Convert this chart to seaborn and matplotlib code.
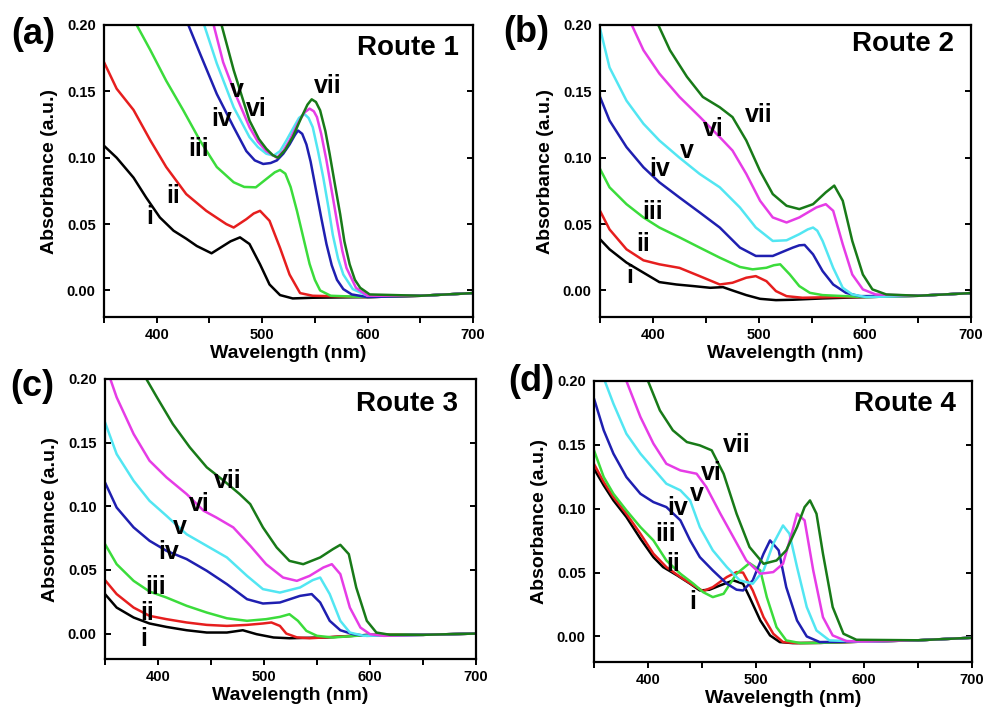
import matplotlib
matplotlib.use("Agg")
import matplotlib.pyplot as plt
import seaborn as sns
import numpy as np

# ---------------- data: Route 1 (a) ----------------
a_i_wl = [350, 362, 378, 390, 403, 416, 428, 438, 452, 463, 470, 479, 488, 498, 507, 517, 529, 548, 600, 650, 700]
a_i_ab = [0.109, 0.100, 0.085, 0.070, 0.055, 0.045, 0.039, 0.0335, 0.028, 0.0335, 0.037, 0.040, 0.035, 0.0197, 0.0045, -0.0035, -0.006, -0.0055, -0.005, -0.004, -0.002]
a_ii_wl = [350, 362, 378, 394, 409, 428, 447, 466, 473, 485, 492, 498, 507, 517, 526, 536, 548, 600, 650, 700]
a_ii_ab = [0.172, 0.152, 0.136, 0.113, 0.093, 0.0726, 0.060, 0.050, 0.0474, 0.0537, 0.058, 0.060, 0.0525, 0.032, 0.012, -0.002, -0.004, -0.005, -0.004, -0.002]
a_iii_wl = [381, 394, 409, 425, 441, 457, 473, 483, 494, 504, 512, 517, 522, 527, 533, 539, 545, 550, 555, 565, 600, 650, 700]
a_iii_ab = [0.200, 0.181, 0.158, 0.136, 0.113, 0.093, 0.0815, 0.078, 0.0777, 0.084, 0.089, 0.0908, 0.088, 0.078, 0.060, 0.040, 0.020, 0.008, 0.000, -0.004, -0.005, -0.004, -0.002]
a_iv_wl = [430, 441, 457, 473, 485, 493, 501, 508, 514, 520, 526, 531, 534, 538, 542, 546, 551, 556, 561, 566, 571, 577, 585, 600, 650, 700]
a_iv_ab = [0.200, 0.1786, 0.148, 0.123, 0.105, 0.098, 0.0953, 0.096, 0.098, 0.103, 0.110, 0.117, 0.1205, 0.118, 0.110, 0.097, 0.076, 0.055, 0.035, 0.019, 0.008, 0.001, -0.003, -0.005, -0.004, -0.002]
a_v_wl = [445, 457, 473, 488, 496, 504, 511, 517, 523, 530, 535, 540, 544, 548, 553, 558, 563, 567, 572, 577, 586, 600, 650, 700]
a_v_ab = [0.200, 0.171, 0.138, 0.1155, 0.108, 0.103, 0.1016, 0.105, 0.113, 0.123, 0.130, 0.133, 0.130, 0.123, 0.105, 0.085, 0.062, 0.042, 0.024, 0.012, 0.001, -0.004, -0.004, -0.002]
a_vi_wl = [454, 463, 473, 488, 496, 504, 514, 520, 526, 534, 540, 545, 549, 552, 556, 561, 566, 571, 576, 580, 589, 600, 650, 700]
a_vi_ab = [0.200, 0.172, 0.151, 0.123, 0.112, 0.105, 0.100, 0.105, 0.113, 0.126, 0.134, 0.137, 0.135, 0.1306, 0.118, 0.098, 0.075, 0.052, 0.030, 0.017, 0.002, -0.004, -0.004, -0.002]
a_vii_wl = [461.5, 473, 488, 497, 504, 510, 515, 522, 529, 537, 543, 547, 551, 555, 560, 564, 569, 574, 578, 583, 588, 593, 602, 650, 700]
a_vii_ab = [0.200, 0.166, 0.128, 0.114, 0.1067, 0.102, 0.100, 0.106, 0.1155, 0.130, 0.140, 0.144, 0.142, 0.1357, 0.120, 0.103, 0.080, 0.0575, 0.037, 0.0197, 0.008, 0.002, -0.003, -0.004, -0.002]

# ---------------- data: Route 2 (b) ----------------
b_i_wl = [350, 359, 375, 391, 406, 422, 438, 454, 466, 475, 488, 501, 516, 532, 560, 600, 650, 700]
b_i_ab = [0.0386, 0.031, 0.021, 0.0134, 0.0063, 0.0045, 0.0033, 0.002, 0.0025, 0.0, -0.0035, -0.0063, -0.0073, -0.007, -0.006, -0.005, -0.004, -0.002]
b_ii_wl = [350, 359, 375, 391, 406, 425, 444, 463, 475, 488, 497, 507, 516, 526, 541, 570, 600, 650, 700]
b_ii_ab = [0.060, 0.046, 0.031, 0.0227, 0.0197, 0.017, 0.0108, 0.0045, 0.0058, 0.0096, 0.0108, 0.007, -0.0005, -0.0043, -0.0055, -0.005, -0.005, -0.004, -0.002]
b_iii_wl = [350, 359, 375, 391, 406, 425, 444, 463, 482, 494, 507, 514, 520, 529, 538, 548, 560, 600, 650, 700]
b_iii_ab = [0.0916, 0.0777, 0.065, 0.055, 0.0474, 0.040, 0.0323, 0.0247, 0.0177, 0.0159, 0.0171, 0.019, 0.0197, 0.0121, 0.0033, -0.0018, -0.0035, -0.005, -0.004, -0.002]
b_iv_wl = [350, 359, 375, 391, 406, 425, 444, 463, 482, 497, 513, 525, 532, 538, 543, 551, 560, 570, 582, 595, 650, 700]
b_iv_ab = [0.1458, 0.128, 0.108, 0.0928, 0.0815, 0.070, 0.0588, 0.0474, 0.0323, 0.026, 0.026, 0.030, 0.0323, 0.034, 0.0343, 0.0272, 0.0146, 0.0045, -0.0018, -0.0043, -0.004, -0.002]
b_v_wl = [350, 359, 375, 391, 406, 425, 444, 463, 482, 497, 513, 526, 538, 546, 551, 555, 560, 570, 579, 588, 601, 650, 700]
b_v_ab = [0.1975, 0.168, 0.143, 0.1256, 0.113, 0.100, 0.0878, 0.0777, 0.0625, 0.0474, 0.0373, 0.0378, 0.0424, 0.046, 0.0474, 0.045, 0.0373, 0.017, 0.002, -0.003, -0.005, -0.004, -0.002]
b_vi_wl = [380, 391, 406, 425, 444, 463, 475, 488, 501, 513, 526, 538, 554, 563, 570, 579, 588, 598, 610, 650, 700]
b_vi_ab = [0.200, 0.181, 0.1634, 0.1458, 0.1309, 0.1155, 0.1054, 0.0878, 0.0676, 0.055, 0.0512, 0.055, 0.0625, 0.065, 0.060, 0.0348, 0.012, 0.0008, -0.003, -0.004, -0.002]
b_vii_wl = [405, 416, 432, 447, 463, 475, 488, 501, 513, 526, 538, 551, 563, 571, 579, 588, 598, 607, 620, 650, 700]
b_vii_ab = [0.200, 0.181, 0.161, 0.1458, 0.138, 0.1306, 0.113, 0.090, 0.0726, 0.0638, 0.0613, 0.065, 0.0739, 0.079, 0.0676, 0.0373, 0.012, 0.0008, -0.003, -0.004, -0.002]

# ---------------- data: Route 3 (c) ----------------
c_i_wl = [350, 361, 377, 392, 408, 427, 446, 465, 480, 493, 509, 524, 560, 600, 650, 700]
c_i_ab = [0.031, 0.0204, 0.0126, 0.0079, 0.0052, 0.0026, 0.0008, 0.0008, 0.0026, -0.0005, -0.0031, -0.0037, -0.003, -0.001, -0.001, 0.0]
c_ii_wl = [350, 361, 377, 392, 408, 427, 446, 465, 484, 499, 507, 515, 521, 531, 543, 600, 650, 700]
c_ii_ab = [0.042, 0.031, 0.0204, 0.0139, 0.0113, 0.0087, 0.0068, 0.006, 0.0068, 0.0079, 0.0087, 0.006, 0.0, -0.003, -0.0037, -0.001, -0.001, 0.0]
c_iii_wl = [350, 361, 377, 392, 408, 427, 446, 465, 484, 502, 515, 524, 532, 540, 550, 565, 600, 650, 700]
c_iii_ab = [0.0703, 0.0545, 0.0414, 0.033, 0.0283, 0.0218, 0.0165, 0.012, 0.010, 0.0113, 0.0131, 0.0152, 0.010, 0.0021, -0.0018, -0.0031, -0.001, -0.001, 0.0]
c_iv_wl = [350, 361, 377, 392, 408, 427, 446, 465, 484, 499, 515, 534, 545, 553, 562, 572, 584, 597, 650, 700]
c_iv_ab = [0.1187, 0.099, 0.0834, 0.0729, 0.065, 0.0585, 0.0493, 0.0388, 0.027, 0.0236, 0.0244, 0.0296, 0.031, 0.0244, 0.010, 0.0026, -0.0005, -0.0018, -0.001, 0.0]
c_v_wl = [350, 361, 377, 392, 408, 427, 446, 465, 484, 499, 515, 534, 546, 553, 562, 572, 581, 594, 650, 700]
c_v_ab = [0.166, 0.141, 0.120, 0.1043, 0.0925, 0.078, 0.0689, 0.0598, 0.0453, 0.0349, 0.0322, 0.0362, 0.042, 0.044, 0.031, 0.010, 0.0008, -0.0018, -0.001, 0.0]
c_vi_wl = [355, 361, 377, 392, 408, 427, 443, 455, 471, 487, 502, 518, 531, 543, 556, 564, 572, 581, 591, 600, 613, 650, 700]
c_vi_ab = [0.200, 0.1856, 0.1568, 0.1358, 0.1227, 0.1096, 0.0965, 0.0912, 0.0834, 0.069, 0.0545, 0.044, 0.0414, 0.0453, 0.0519, 0.0545, 0.0467, 0.0204, 0.0047, -0.0005, -0.0018, -0.001, 0.0]
c_vii_wl = [389, 399, 414, 430, 446, 462, 477, 487, 499, 512, 524, 537, 553, 565, 572, 580, 587, 597, 606, 619, 650, 700]
c_vii_ab = [0.200, 0.1856, 0.1646, 0.1463, 0.1306, 0.1201, 0.1096, 0.1017, 0.0834, 0.0676, 0.0571, 0.0545, 0.0598, 0.0663, 0.0697, 0.0624, 0.0362, 0.010, 0.0008, -0.001, -0.001, 0.0]

# ---------------- data: Route 4 (d) ----------------
d_i_wl = [350, 359, 368, 380, 393, 405, 414, 427, 439, 448, 457, 467, 479, 488, 494, 504, 513, 522, 534, 560, 600, 650, 700]
d_i_ab = [0.1313, 0.1183, 0.1065, 0.0935, 0.0765, 0.0621, 0.0543, 0.0478, 0.0413, 0.036, 0.0366, 0.040, 0.0439, 0.0413, 0.0308, 0.0125, 0.0008, -0.0044, -0.0052, -0.005, -0.004, -0.003, -0.001]
d_ii_wl = [350, 359, 368, 380, 393, 405, 417, 430, 442, 451, 460, 473, 482, 488, 497, 507, 516, 525, 538, 560, 600, 650, 700]
d_ii_ab = [0.135, 0.1209, 0.109, 0.096, 0.0804, 0.0648, 0.0543, 0.0465, 0.040, 0.0355, 0.0386, 0.0465, 0.0504, 0.050, 0.036, 0.0151, 0.0021, -0.0044, -0.0052, -0.005, -0.004, -0.003, -0.001]
d_iii_wl = [350, 359, 368, 380, 393, 405, 417, 430, 442, 451, 460, 470, 482, 494, 504, 510, 519, 528, 541, 560, 600, 650, 700]
d_iii_ab = [0.1457, 0.1248, 0.1117, 0.0987, 0.0856, 0.0752, 0.0595, 0.0491, 0.0413, 0.0347, 0.0308, 0.0334, 0.0491, 0.0574, 0.0517, 0.0308, 0.0073, -0.0031, -0.0052, -0.005, -0.004, -0.003, -0.001]
d_iv_wl = [350, 359, 368, 380, 393, 405, 417, 430, 439, 448, 460, 473, 482, 488, 497, 507, 513, 521, 528, 538, 547, 559, 600, 650, 700]
d_iv_ab = [0.1862, 0.1614, 0.1431, 0.1248, 0.1117, 0.1052, 0.1013, 0.0909, 0.0752, 0.0621, 0.0517, 0.0413, 0.0366, 0.036, 0.0439, 0.0648, 0.0752, 0.0674, 0.0386, 0.0125, 0.0, -0.0044, -0.004, -0.003, -0.001]
d_v_wl = [360, 368, 380, 393, 405, 417, 430, 439, 448, 460, 473, 485, 497, 507, 516, 525, 531, 538, 547, 556, 568, 600, 650, 700]
d_v_ab = [0.200, 0.1822, 0.1587, 0.1431, 0.1313, 0.1196, 0.1144, 0.1065, 0.0856, 0.0674, 0.0543, 0.0439, 0.0413, 0.0517, 0.0726, 0.0869, 0.0804, 0.0543, 0.023, 0.0047, -0.0031, -0.004, -0.003, -0.001]
d_vi_wl = [380, 393, 405, 417, 430, 445, 454, 467, 479, 491, 504, 516, 525, 533, 538, 545, 553, 562, 571, 584, 600, 650, 700]
d_vi_ab = [0.200, 0.1718, 0.151, 0.1352, 0.130, 0.1274, 0.117, 0.0961, 0.0778, 0.0595, 0.0491, 0.0504, 0.0569, 0.0804, 0.0961, 0.0909, 0.0517, 0.0151, 0.0008, -0.0037, -0.004, -0.003, -0.001]
d_vii_wl = [400, 411, 423, 436, 448, 459, 470, 482, 494, 507, 519, 528, 538, 545, 550, 556, 562, 571, 581, 593, 650, 700]
d_vii_ab = [0.200, 0.177, 0.1614, 0.1522, 0.1496, 0.1457, 0.1274, 0.0961, 0.070, 0.0569, 0.0595, 0.0674, 0.0856, 0.1013, 0.1065, 0.0961, 0.0648, 0.023, 0.0021, -0.0026, -0.003, -0.001]

# labels
roman = ["i", "ii", "iii", "iv", "v", "vi", "vii"]
colors = ["#000000", "#e61e1e", "#3bdc3b", "#1f1fb0", "#52e6f2", "#e63ce6", "#187a18"]
panel_tags = ["(a)", "(b)", "(c)", "(d)"]
route_names = ["Route 1", "Route 2", "Route 3", "Route 4"]

a_lab_x = [393, 415.7, 440, 461.5, 476.3, 494.7, 562]
a_lab_y = [0.0555, 0.0714, 0.1067, 0.129, 0.151, 0.137, 0.1538]
b_lab_x = [378.2, 390.8, 399.6, 406.5, 431.6, 456.7, 499.7]
b_lab_y = [0.0108, 0.0353, 0.0588, 0.0916, 0.1054, 0.1218, 0.1319]
c_lab_x = [386.2, 389.3, 398, 409.7, 420.8, 438.7, 465.7]
c_lab_y = [-0.0045, 0.0165, 0.0362, 0.0637, 0.0834, 0.1017, 0.1200]
d_lab_x = [441.3, 423.4, 416.6, 427.4, 445.6, 458.8, 482]
d_lab_y = [0.0269, 0.0564, 0.0804, 0.1008, 0.1117, 0.128, 0.1496]

route_x = [638, 636, 635, 638]
route_y = [0.183, 0.186, 0.180, 0.182]

panels = [
    ([(a_i_wl, a_i_ab), (a_ii_wl, a_ii_ab), (a_iii_wl, a_iii_ab), (a_iv_wl, a_iv_ab),
      (a_v_wl, a_v_ab), (a_vi_wl, a_vi_ab), (a_vii_wl, a_vii_ab)], a_lab_x, a_lab_y),
    ([(b_i_wl, b_i_ab), (b_ii_wl, b_ii_ab), (b_iii_wl, b_iii_ab), (b_iv_wl, b_iv_ab),
      (b_v_wl, b_v_ab), (b_vi_wl, b_vi_ab), (b_vii_wl, b_vii_ab)], b_lab_x, b_lab_y),
    ([(c_i_wl, c_i_ab), (c_ii_wl, c_ii_ab), (c_iii_wl, c_iii_ab), (c_iv_wl, c_iv_ab),
      (c_v_wl, c_v_ab), (c_vi_wl, c_vi_ab), (c_vii_wl, c_vii_ab)], c_lab_x, c_lab_y),
    ([(d_i_wl, d_i_ab), (d_ii_wl, d_ii_ab), (d_iii_wl, d_iii_ab), (d_iv_wl, d_iv_ab),
      (d_v_wl, d_v_ab), (d_vi_wl, d_vi_ab), (d_vii_wl, d_vii_ab)], d_lab_x, d_lab_y),
]

sns.set_theme(style="ticks")
plt.rcParams["font.family"] = ["Liberation Sans", "DejaVu Sans"]
plt.rcParams["font.weight"] = "bold"
plt.rcParams["axes.labelweight"] = "bold"
plt.rcParams["text.color"] = "black"
plt.rcParams["axes.labelcolor"] = "black"
plt.rcParams["xtick.color"] = "black"
plt.rcParams["ytick.color"] = "black"

W, H = 986, 709
fig = plt.figure(figsize=(W / 100, H / 100), dpi=100)
fig.patch.set_facecolor("white")

# axes boxes in pixels: left, top, right, bottom
boxes = [(104, 25, 473, 317), (600, 25, 971, 317), (105, 379, 476, 659), (594, 381, 972, 662)]
tag_pos = [(33, 35), (526, 33), (32, 386), (531, 381)]

for k, (curves, lx, ly) in enumerate(panels):
    l, t, r, b = boxes[k]
    ax = fig.add_axes([l / W, 1 - b / H, (r - l) / W, (b - t) / H])
    for j, (wl, ab) in enumerate(curves):
        sns.lineplot(x=wl, y=ab, ax=ax, color=colors[j], linewidth=1.8,
                     sort=False, estimator=None, legend=False)
        ax.text(lx[j], ly[j], roman[j], fontsize=18, fontweight="bold",
                ha="center", va="center", color="black")
    ax.text(route_x[k], route_y[k], route_names[k], fontsize=20, fontweight="bold",
            ha="center", va="center", color="black")
    ax.set_xlim(350, 700)
    ax.set_ylim(-0.02, 0.2)
    ax.set_xticks([400, 500, 600, 700])
    ax.set_xticks([350, 450, 550, 650], minor=True)
    ax.set_yticks([0.0, 0.05, 0.10, 0.15, 0.20])
    ax.set_yticklabels(["0.00", "0.05", "0.10", "0.15", "0.20"])
    for s in ax.spines.values():
        s.set_linewidth(1.6)
        s.set_color("black")
        s.set_visible(True)
    ax.tick_params(axis="x", which="both", direction="out", length=4, width=1.4,
                   labelsize=10.5, pad=4, colors="black")
    ax.tick_params(axis="y", which="both", left=True, right=True, direction="in",
                   length=4, width=1.4, labelsize=10.5, pad=6, colors="black")
    for lab in ax.get_xticklabels() + ax.get_yticklabels():
        lab.set_fontweight("bold")
        lab.set_color("black")
    ax.set_xlabel("Wavelength (nm)", fontsize=14, fontweight="bold", labelpad=2, color="black")
    ax.set_ylabel("Absorbance (a.u.)", fontsize=14, fontweight="bold", labelpad=6, color="black")
    ax.set_facecolor("white")
    ax.grid(False)
    fig.text(tag_pos[k][0] / W, 1 - tag_pos[k][1] / H, panel_tags[k], fontsize=26,
             fontweight="bold", ha="center", va="center", color="black")

fig.savefig("out.png", dpi=100, facecolor="white")
